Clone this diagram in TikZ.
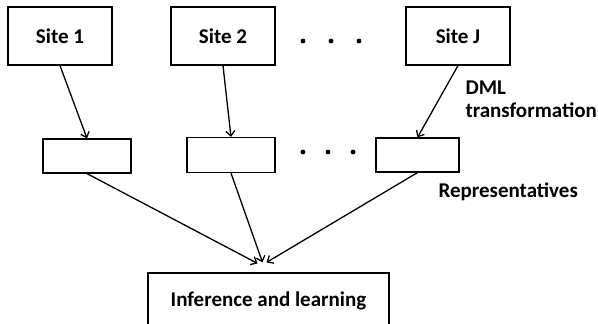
\documentclass[tikz,border=0pt]{standalone}
\usepackage{fontspec}
\setmainfont{Carlito}
\usepackage{tikz}
\usetikzlibrary{arrows.meta}

\begin{document}
\begin{tikzpicture}[x = 1pt , y = -1pt ,
    box/.style = {draw , line width = 1.2pt , inner sep = 0pt},
    lbl/.style = {font = \fontsize{21}{23}\selectfont\bfseries},
    arr/.style = {line width = 1.3pt , -{Straight Barb[length = 5pt , width = 9pt]}}]
    \clip (0,0) rectangle (598,324);
    \node[box , lbl , minimum width = 104pt , minimum height = 58pt] (site1) at (60,36) {Site 1};
    \node[box , lbl , minimum width = 104pt , minimum height = 58pt] (site2) at (223,36) {Site 2};
    \node[box , lbl , minimum width = 104pt , minimum height = 58pt] (siteJ) at (458,36) {Site J};
    \node[box , minimum width = 88pt , minimum height = 34pt] (rep1) at (87,156) {};
    \node[box , minimum width = 88pt , minimum height = 35pt] (rep2) at (231,155) {};
    \node[box , minimum width = 83pt , minimum height = 34pt] (rep3) at (417.5,155) {};
    \node[box , lbl , minimum width = 241pt , minimum height = 56pt] (infer) at (268.5,301) {Inference and learning};
    \foreach \x in {303 , 331 , 359} \fill (\x,41) circle (2.4pt); % dots
    \foreach \x in {303 , 328 , 353} \fill (\x,152) circle (2.4pt);
    \draw[arr] (site1.south) -- (rep1.north);
    \draw[arr] (site2.south) -- (rep2.north);
    \draw[arr] (siteJ.south) -- (rep3.north);
    \draw[arr] (rep1.south) -- ([xshift = -11pt , yshift = 9pt]infer.north);
    \draw[arr] (rep2.south) -- ([xshift = -6pt , yshift = 10pt]infer.north);
    \draw[arr] (rep3.south) -- ([xshift = -2pt , yshift = 10pt]infer.north);
    \node[lbl , align = left , anchor = west] (dml) at (462,99) {DML\\transformation};
    \node[lbl , anchor = west] (reps) at (435,192) {Representatives};
\end{tikzpicture}
\end{document}
